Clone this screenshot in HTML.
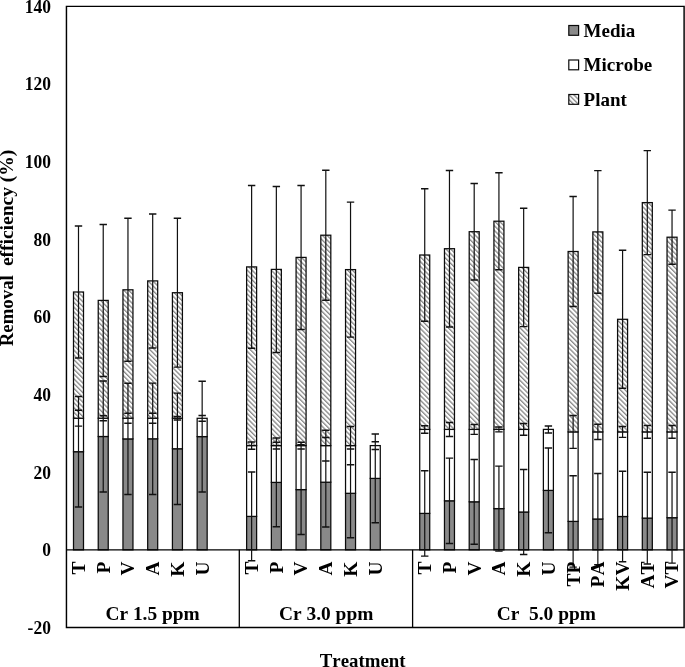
<!DOCTYPE html><html><head><meta charset="utf-8"><style>
html,body{margin:0;padding:0;background:#fff;width:685px;height:667px;overflow:hidden}
svg{display:block;position:absolute;left:0;top:0;will-change:transform}
text{font-family:"Liberation Serif",serif;font-weight:bold;fill:#000;font-kerning:none;font-feature-settings:"kern" 0,"liga" 0}
</style></head><body>
<svg width="685" height="667" viewBox="0 0 685 667">
<defs><pattern id="h" patternUnits="userSpaceOnUse" width="3.38" height="20" patternTransform="rotate(-45)"><rect x="0" y="0" width="3.38" height="20" fill="#fff"/><rect x="0" y="0" width="1.3" height="20" fill="#868686"/></pattern></defs>
<path d="M66.45,6.35H684.1V627.45H66.45Z" fill="none" stroke="#000" stroke-width="1.45"/>
<rect x="73.50" y="451.70" width="10.0" height="98.15" fill="#898989" stroke="#0a0a0a" stroke-width="1.25"/>
<rect x="73.50" y="418.20" width="10.0" height="33.50" fill="#fff" stroke="#0a0a0a" stroke-width="1.25"/>
<rect x="73.50" y="292.00" width="10.0" height="126.20" fill="url(#h)" stroke="#0a0a0a" stroke-width="1.25"/>
<rect x="98.23" y="436.50" width="10.0" height="113.35" fill="#898989" stroke="#0a0a0a" stroke-width="1.25"/>
<rect x="98.23" y="418.20" width="10.0" height="18.30" fill="#fff" stroke="#0a0a0a" stroke-width="1.25"/>
<rect x="98.23" y="300.40" width="10.0" height="117.80" fill="url(#h)" stroke="#0a0a0a" stroke-width="1.25"/>
<rect x="122.96" y="438.90" width="10.0" height="110.95" fill="#898989" stroke="#0a0a0a" stroke-width="1.25"/>
<rect x="122.96" y="418.20" width="10.0" height="20.70" fill="#fff" stroke="#0a0a0a" stroke-width="1.25"/>
<rect x="122.96" y="289.80" width="10.0" height="128.40" fill="url(#h)" stroke="#0a0a0a" stroke-width="1.25"/>
<rect x="147.69" y="438.80" width="10.0" height="111.05" fill="#898989" stroke="#0a0a0a" stroke-width="1.25"/>
<rect x="147.69" y="418.20" width="10.0" height="20.60" fill="#fff" stroke="#0a0a0a" stroke-width="1.25"/>
<rect x="147.69" y="280.90" width="10.0" height="137.30" fill="url(#h)" stroke="#0a0a0a" stroke-width="1.25"/>
<rect x="172.42" y="448.75" width="10.0" height="101.10" fill="#898989" stroke="#0a0a0a" stroke-width="1.25"/>
<rect x="172.42" y="418.20" width="10.0" height="30.55" fill="#fff" stroke="#0a0a0a" stroke-width="1.25"/>
<rect x="172.42" y="292.70" width="10.0" height="125.50" fill="url(#h)" stroke="#0a0a0a" stroke-width="1.25"/>
<rect x="197.16" y="436.60" width="10.0" height="113.25" fill="#898989" stroke="#0a0a0a" stroke-width="1.25"/>
<rect x="197.16" y="418.30" width="10.0" height="18.30" fill="#fff" stroke="#0a0a0a" stroke-width="1.25"/>
<rect x="246.62" y="516.40" width="10.0" height="33.45" fill="#898989" stroke="#0a0a0a" stroke-width="1.25"/>
<rect x="246.62" y="445.60" width="10.0" height="70.80" fill="#fff" stroke="#0a0a0a" stroke-width="1.25"/>
<rect x="246.62" y="266.90" width="10.0" height="178.70" fill="url(#h)" stroke="#0a0a0a" stroke-width="1.25"/>
<rect x="271.35" y="482.40" width="10.0" height="67.45" fill="#898989" stroke="#0a0a0a" stroke-width="1.25"/>
<rect x="271.35" y="445.60" width="10.0" height="36.80" fill="#fff" stroke="#0a0a0a" stroke-width="1.25"/>
<rect x="271.35" y="269.40" width="10.0" height="176.20" fill="url(#h)" stroke="#0a0a0a" stroke-width="1.25"/>
<rect x="296.08" y="489.60" width="10.0" height="60.25" fill="#898989" stroke="#0a0a0a" stroke-width="1.25"/>
<rect x="296.08" y="445.60" width="10.0" height="44.00" fill="#fff" stroke="#0a0a0a" stroke-width="1.25"/>
<rect x="296.08" y="257.40" width="10.0" height="188.20" fill="url(#h)" stroke="#0a0a0a" stroke-width="1.25"/>
<rect x="320.81" y="482.20" width="10.0" height="67.65" fill="#898989" stroke="#0a0a0a" stroke-width="1.25"/>
<rect x="320.81" y="445.60" width="10.0" height="36.60" fill="#fff" stroke="#0a0a0a" stroke-width="1.25"/>
<rect x="320.81" y="235.20" width="10.0" height="210.40" fill="url(#h)" stroke="#0a0a0a" stroke-width="1.25"/>
<rect x="345.54" y="493.30" width="10.0" height="56.55" fill="#898989" stroke="#0a0a0a" stroke-width="1.25"/>
<rect x="345.54" y="445.60" width="10.0" height="47.70" fill="#fff" stroke="#0a0a0a" stroke-width="1.25"/>
<rect x="345.54" y="269.60" width="10.0" height="176.00" fill="url(#h)" stroke="#0a0a0a" stroke-width="1.25"/>
<rect x="370.27" y="478.40" width="10.0" height="71.45" fill="#898989" stroke="#0a0a0a" stroke-width="1.25"/>
<rect x="370.27" y="445.60" width="10.0" height="32.80" fill="#fff" stroke="#0a0a0a" stroke-width="1.25"/>
<rect x="419.73" y="513.40" width="10.0" height="36.45" fill="#898989" stroke="#0a0a0a" stroke-width="1.25"/>
<rect x="419.73" y="429.40" width="10.0" height="84.00" fill="#fff" stroke="#0a0a0a" stroke-width="1.25"/>
<rect x="419.73" y="255.00" width="10.0" height="174.40" fill="url(#h)" stroke="#0a0a0a" stroke-width="1.25"/>
<rect x="444.47" y="500.80" width="10.0" height="49.05" fill="#898989" stroke="#0a0a0a" stroke-width="1.25"/>
<rect x="444.47" y="429.40" width="10.0" height="71.40" fill="#fff" stroke="#0a0a0a" stroke-width="1.25"/>
<rect x="444.47" y="248.70" width="10.0" height="180.70" fill="url(#h)" stroke="#0a0a0a" stroke-width="1.25"/>
<rect x="469.20" y="501.80" width="10.0" height="48.05" fill="#898989" stroke="#0a0a0a" stroke-width="1.25"/>
<rect x="469.20" y="429.40" width="10.0" height="72.40" fill="#fff" stroke="#0a0a0a" stroke-width="1.25"/>
<rect x="469.20" y="231.70" width="10.0" height="197.70" fill="url(#h)" stroke="#0a0a0a" stroke-width="1.25"/>
<rect x="493.93" y="508.60" width="10.0" height="41.25" fill="#898989" stroke="#0a0a0a" stroke-width="1.25"/>
<rect x="493.93" y="429.40" width="10.0" height="79.20" fill="#fff" stroke="#0a0a0a" stroke-width="1.25"/>
<rect x="493.93" y="221.20" width="10.0" height="208.20" fill="url(#h)" stroke="#0a0a0a" stroke-width="1.25"/>
<rect x="518.66" y="512.00" width="10.0" height="37.85" fill="#898989" stroke="#0a0a0a" stroke-width="1.25"/>
<rect x="518.66" y="429.40" width="10.0" height="82.60" fill="#fff" stroke="#0a0a0a" stroke-width="1.25"/>
<rect x="518.66" y="267.40" width="10.0" height="162.00" fill="url(#h)" stroke="#0a0a0a" stroke-width="1.25"/>
<rect x="543.39" y="490.40" width="10.0" height="59.45" fill="#898989" stroke="#0a0a0a" stroke-width="1.25"/>
<rect x="543.39" y="429.40" width="10.0" height="61.00" fill="#fff" stroke="#0a0a0a" stroke-width="1.25"/>
<rect x="568.12" y="521.40" width="10.0" height="28.45" fill="#898989" stroke="#0a0a0a" stroke-width="1.25"/>
<rect x="568.12" y="431.90" width="10.0" height="89.50" fill="#fff" stroke="#0a0a0a" stroke-width="1.25"/>
<rect x="568.12" y="251.50" width="10.0" height="180.40" fill="url(#h)" stroke="#0a0a0a" stroke-width="1.25"/>
<rect x="592.85" y="519.00" width="10.0" height="30.85" fill="#898989" stroke="#0a0a0a" stroke-width="1.25"/>
<rect x="592.85" y="431.90" width="10.0" height="87.10" fill="#fff" stroke="#0a0a0a" stroke-width="1.25"/>
<rect x="592.85" y="231.90" width="10.0" height="200.00" fill="url(#h)" stroke="#0a0a0a" stroke-width="1.25"/>
<rect x="617.58" y="516.50" width="10.0" height="33.35" fill="#898989" stroke="#0a0a0a" stroke-width="1.25"/>
<rect x="617.58" y="431.90" width="10.0" height="84.60" fill="#fff" stroke="#0a0a0a" stroke-width="1.25"/>
<rect x="617.58" y="319.30" width="10.0" height="112.60" fill="url(#h)" stroke="#0a0a0a" stroke-width="1.25"/>
<rect x="642.31" y="518.10" width="10.0" height="31.75" fill="#898989" stroke="#0a0a0a" stroke-width="1.25"/>
<rect x="642.31" y="431.90" width="10.0" height="86.20" fill="#fff" stroke="#0a0a0a" stroke-width="1.25"/>
<rect x="642.31" y="202.60" width="10.0" height="229.30" fill="url(#h)" stroke="#0a0a0a" stroke-width="1.25"/>
<rect x="667.04" y="517.70" width="10.0" height="32.15" fill="#898989" stroke="#0a0a0a" stroke-width="1.25"/>
<rect x="667.04" y="431.90" width="10.0" height="85.80" fill="#fff" stroke="#0a0a0a" stroke-width="1.25"/>
<rect x="667.04" y="237.20" width="10.0" height="194.70" fill="url(#h)" stroke="#0a0a0a" stroke-width="1.25"/>
<line x1="66.45" y1="549.85" x2="684.1" y2="549.85" stroke="#000" stroke-width="1.45"/>
<path d="M78.50,396.45V506.95M78.50,410.30V426.10M78.50,226.00V358.00M103.23,381.00V492.00M103.23,415.70V420.70M103.23,224.40V376.40M127.96,383.30V494.50M127.96,413.25V423.15M127.96,218.30V361.30M152.69,383.10V494.50M152.69,413.20V423.20M152.69,213.90V347.90M177.42,393.10V504.40M177.42,416.40V420.00M177.42,218.30V367.10M202.16,381.30V491.90M202.16,415.45V421.15M251.62,472.00V560.80M251.62,442.05V449.15M251.62,185.50V348.30M276.35,438.00V526.80M276.35,442.30V448.90M276.35,186.40V352.40M301.08,444.70V534.50M301.08,442.30V448.90M301.08,185.40V329.40M325.81,437.40V527.00M325.81,430.30V460.90M325.81,170.20V300.20M350.54,448.90V537.70M350.54,426.50V464.70M350.54,202.10V337.10M375.27,434.00V522.80M375.27,441.65V449.55M424.73,470.70V556.10M424.73,425.65V433.15M424.73,188.70V321.30M449.47,458.10V543.50M449.47,422.40V436.40M449.47,170.40V327.00M474.20,459.40V544.20M474.20,424.45V434.35M474.20,183.50V279.90M498.93,466.10V551.10M498.93,426.95V431.85M498.93,172.70V269.70M523.66,469.50V554.50M523.66,423.55V435.25M523.66,208.20V326.60M548.39,448.00V532.80M548.39,425.90V432.90M573.12,475.70V567.10M573.12,415.45V448.35M573.12,196.50V306.50M597.85,473.40V564.60M597.85,424.30V439.50M597.85,170.60V293.20M622.58,471.20V561.80M622.58,426.45V437.35M622.58,250.30V388.30M647.31,472.30V563.90M647.31,425.50V438.30M647.31,150.60V254.60M672.04,472.30V563.10M672.04,425.50V438.30M672.04,210.10V264.30" stroke="#111" stroke-width="1.2" fill="none"/>
<path d="M74.80,396.45h7.4M74.80,506.95h7.4M74.80,410.30h7.4M74.80,426.10h7.4M74.80,226.00h7.4M74.80,358.00h7.4M99.53,381.00h7.4M99.53,492.00h7.4M99.53,415.70h7.4M99.53,420.70h7.4M99.53,224.40h7.4M99.53,376.40h7.4M124.26,383.30h7.4M124.26,494.50h7.4M124.26,413.25h7.4M124.26,423.15h7.4M124.26,218.30h7.4M124.26,361.30h7.4M148.99,383.10h7.4M148.99,494.50h7.4M148.99,413.20h7.4M148.99,423.20h7.4M148.99,213.90h7.4M148.99,347.90h7.4M173.72,393.10h7.4M173.72,504.40h7.4M173.72,416.40h7.4M173.72,420.00h7.4M173.72,218.30h7.4M173.72,367.10h7.4M198.46,381.30h7.4M198.46,491.90h7.4M198.46,415.45h7.4M198.46,421.15h7.4M247.92,472.00h7.4M247.92,560.80h7.4M247.92,442.05h7.4M247.92,449.15h7.4M247.92,185.50h7.4M247.92,348.30h7.4M272.65,438.00h7.4M272.65,526.80h7.4M272.65,442.30h7.4M272.65,448.90h7.4M272.65,186.40h7.4M272.65,352.40h7.4M297.38,444.70h7.4M297.38,534.50h7.4M297.38,442.30h7.4M297.38,448.90h7.4M297.38,185.40h7.4M297.38,329.40h7.4M322.11,437.40h7.4M322.11,527.00h7.4M322.11,430.30h7.4M322.11,460.90h7.4M322.11,170.20h7.4M322.11,300.20h7.4M346.84,448.90h7.4M346.84,537.70h7.4M346.84,426.50h7.4M346.84,464.70h7.4M346.84,202.10h7.4M346.84,337.10h7.4M371.57,434.00h7.4M371.57,522.80h7.4M371.57,441.65h7.4M371.57,449.55h7.4M421.03,470.70h7.4M421.03,556.10h7.4M421.03,425.65h7.4M421.03,433.15h7.4M421.03,188.70h7.4M421.03,321.30h7.4M445.77,458.10h7.4M445.77,543.50h7.4M445.77,422.40h7.4M445.77,436.40h7.4M445.77,170.40h7.4M445.77,327.00h7.4M470.50,459.40h7.4M470.50,544.20h7.4M470.50,424.45h7.4M470.50,434.35h7.4M470.50,183.50h7.4M470.50,279.90h7.4M495.23,466.10h7.4M495.23,551.10h7.4M495.23,426.95h7.4M495.23,431.85h7.4M495.23,172.70h7.4M495.23,269.70h7.4M519.96,469.50h7.4M519.96,554.50h7.4M519.96,423.55h7.4M519.96,435.25h7.4M519.96,208.20h7.4M519.96,326.60h7.4M544.69,448.00h7.4M544.69,532.80h7.4M544.69,425.90h7.4M544.69,432.90h7.4M569.42,475.70h7.4M569.42,567.10h7.4M569.42,415.45h7.4M569.42,448.35h7.4M569.42,196.50h7.4M569.42,306.50h7.4M594.15,473.40h7.4M594.15,564.60h7.4M594.15,424.30h7.4M594.15,439.50h7.4M594.15,170.60h7.4M594.15,293.20h7.4M618.88,471.20h7.4M618.88,561.80h7.4M618.88,426.45h7.4M618.88,437.35h7.4M618.88,250.30h7.4M618.88,388.30h7.4M643.61,472.30h7.4M643.61,563.90h7.4M643.61,425.50h7.4M643.61,438.30h7.4M643.61,150.60h7.4M643.61,254.60h7.4M668.34,472.30h7.4M668.34,563.10h7.4M668.34,425.50h7.4M668.34,438.30h7.4M668.34,210.10h7.4M668.34,264.30h7.4" stroke="#111" stroke-width="1.45" fill="none"/>
<line x1="239.30" y1="549.85" x2="239.30" y2="627.45" stroke="#000" stroke-width="1.3"/>
<line x1="412.60" y1="549.85" x2="412.60" y2="627.45" stroke="#000" stroke-width="1.3"/>
<text transform="translate(50.9,627.69) scale(1,1.07)" x="0" y="5.7" font-size="17.5" text-anchor="end">-20</text>
<text transform="translate(50.9,550.05) scale(1,1.07)" x="0" y="5.7" font-size="17.5" text-anchor="end">0</text>
<text transform="translate(50.9,472.41) scale(1,1.07)" x="0" y="5.7" font-size="17.5" text-anchor="end">20</text>
<text transform="translate(50.9,394.76) scale(1,1.07)" x="0" y="5.7" font-size="17.5" text-anchor="end">40</text>
<text transform="translate(50.9,317.12) scale(1,1.07)" x="0" y="5.7" font-size="17.5" text-anchor="end">60</text>
<text transform="translate(50.9,239.48) scale(1,1.07)" x="0" y="5.7" font-size="17.5" text-anchor="end">80</text>
<text transform="translate(50.9,161.84) scale(1,1.07)" x="0" y="5.7" font-size="17.5" text-anchor="end">100</text>
<text transform="translate(50.9,84.19) scale(1,1.07)" x="0" y="5.7" font-size="17.5" text-anchor="end">120</text>
<text transform="translate(50.9,6.55) scale(1,1.07)" x="0" y="5.7" font-size="17.5" text-anchor="end">140</text>
<text transform="translate(13.2,346.2) rotate(-90)" font-size="18.8">Removal</text>
<text transform="translate(13.3,266.1) rotate(-90)" font-size="19.5" xml:space="preserve">efficiency (%)</text>
<text transform="translate(84.90,561.6) rotate(-90)" font-size="19.4" text-anchor="end">T</text>
<text transform="translate(109.63,561.6) rotate(-90)" font-size="19.4" text-anchor="end">P</text>
<text transform="translate(134.36,561.6) rotate(-90)" font-size="19.4" text-anchor="end">V</text>
<text transform="translate(159.09,561.6) rotate(-90)" font-size="19.4" text-anchor="end">A</text>
<text transform="translate(183.82,561.6) rotate(-90)" font-size="19.4" text-anchor="end">K</text>
<text transform="translate(208.56,561.6) rotate(-90)" font-size="19.4" text-anchor="end">U</text>
<text transform="translate(258.02,561.6) rotate(-90)" font-size="19.4" text-anchor="end">T</text>
<text transform="translate(282.75,561.6) rotate(-90)" font-size="19.4" text-anchor="end">P</text>
<text transform="translate(307.48,561.6) rotate(-90)" font-size="19.4" text-anchor="end">V</text>
<text transform="translate(332.21,561.6) rotate(-90)" font-size="19.4" text-anchor="end">A</text>
<text transform="translate(356.94,561.6) rotate(-90)" font-size="19.4" text-anchor="end">K</text>
<text transform="translate(381.67,561.6) rotate(-90)" font-size="19.4" text-anchor="end">U</text>
<text transform="translate(431.13,561.6) rotate(-90)" font-size="19.4" text-anchor="end">T</text>
<text transform="translate(455.87,561.6) rotate(-90)" font-size="19.4" text-anchor="end">P</text>
<text transform="translate(480.60,561.6) rotate(-90)" font-size="19.4" text-anchor="end">V</text>
<text transform="translate(505.33,561.6) rotate(-90)" font-size="19.4" text-anchor="end">A</text>
<text transform="translate(530.06,561.6) rotate(-90)" font-size="19.4" text-anchor="end">K</text>
<text transform="translate(554.79,561.6) rotate(-90)" font-size="19.4" text-anchor="end">U</text>
<text transform="translate(579.52,561.6) rotate(-90)" font-size="19.4" text-anchor="end">TP</text>
<text transform="translate(604.25,561.6) rotate(-90)" font-size="19.4" text-anchor="end">PA</text>
<text transform="translate(628.98,561.6) rotate(-90)" font-size="19.4" text-anchor="end">KV</text>
<text transform="translate(653.71,561.6) rotate(-90)" font-size="19.4" text-anchor="end">AT</text>
<text transform="translate(678.44,561.6) rotate(-90)" font-size="19.4" text-anchor="end">VT</text>
<text x="152.6" y="620.3" font-size="19.4" text-anchor="middle">Cr 1.5 ppm</text>
<text x="326.2" y="620.3" font-size="19.4" text-anchor="middle">Cr 3.0 ppm</text>
<text x="546.3" y="620.3" font-size="19.4" text-anchor="middle" xml:space="preserve">Cr  5.0 ppm</text>
<text x="362.7" y="666.9" font-size="18.85" text-anchor="middle">Treatment</text>
<rect x="568.8" y="25.50" width="9.8" height="9.8" fill="#898989" stroke="#0a0a0a" stroke-width="1.2"/>
<text x="583.6" y="36.60" font-size="19">Media</text>
<rect x="568.8" y="60.00" width="9.8" height="9.8" fill="#fff" stroke="#0a0a0a" stroke-width="1.2"/>
<text x="583.6" y="71.10" font-size="19">Microbe</text>
<rect x="568.8" y="94.50" width="9.8" height="9.8" fill="url(#h)" stroke="#0a0a0a" stroke-width="1.2"/>
<text x="583.6" y="105.60" font-size="19">Plant</text>
</svg></body></html>
